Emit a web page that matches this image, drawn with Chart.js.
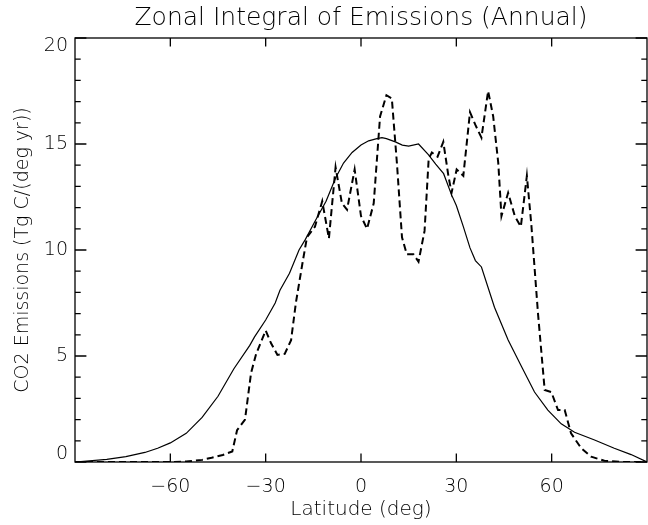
<!DOCTYPE html>
<html><head><meta charset="utf-8">
<script src="https://cdn.jsdelivr.net/npm/chart.js@4/dist/chart.umd.min.js"></script>
<style>html,body{margin:0;padding:0;background:#fff}#wrap{width:648px;height:525px}</style>
</head><body><div id="wrap"><canvas id="c" width="648" height="525"></canvas></div>
<script>
const titleText = 'Zonal Integral of Emissions (Annual)';
const xTitle = 'Latitude (deg)';
const yTitle = 'CO2 Emissions (Tg C/(deg yr))';
const xTickValues = [-60, -30, 0, 30, 60];
const yTickValues = [0, 5, 10, 15, 20];

const solidLat = [-90,-80,-74,-68,-64,-60,-55,-50,-45,-40,-35,-33.5,-30,-27,-25.5,-22.5,-19.5,-17.5,-14.3,-11,-8,-5.5,-2.8,0,2.4,5,6.6,8,10.8,13,15,18.1,21.2,23.5,26,28.5,30,32.2,34.3,36,37.9,42,46.3,50.5,54.6,58.8,63,67.2,73.5,79.7,85,90];
const solidVal = [0,0.12,0.25,0.45,0.65,0.9,1.35,2.1,3.1,4.4,5.5,5.9,6.7,7.5,8.1,8.9,10.0,10.5,11.4,12.3,13.4,14.1,14.6,14.95,15.15,15.25,15.3,15.25,15.1,14.95,14.9,15.0,14.5,14.05,13.6,12.6,12.1,11.1,10.1,9.5,9.2,7.3,5.75,4.5,3.3,2.45,1.8,1.4,1.04,0.65,0.35,0];

const dashLat = [-90,-70,-60,-55,-50,-47,-43.5,-40.5,-39,-36.5,-34.6,-33,-30,-28.3,-26.3,-24,-22,-20.5,-18.4,-17,-14.5,-12.2,-10.1,-8,-6,-4.4,-2,0,1.9,4,6,8,9.7,11.3,12.9,14.4,16.5,18.1,20,21.3,22.3,24.1,25.9,27.5,28.5,30.1,32.2,34.3,36,37.9,40,41.6,43.2,44.2,46.3,48.4,50.3,52.2,53.6,55.7,57.8,59.9,62,64.1,66.1,69.3,72.4,76.6,82,90];
const dashVal = [0,0,0,0.02,0.1,0.2,0.33,0.5,1.5,2.0,4.2,5.1,6.2,5.6,5.05,5.1,5.75,7.5,9.4,10.6,11.1,12.3,10.55,13.9,12.2,11.9,13.8,11.6,11.0,12.2,16.3,17.3,17.15,14.1,10.6,9.8,9.8,9.45,10.9,14.3,14.6,14.4,15.1,13.5,12.7,13.8,13.5,16.5,15.9,15.3,17.5,16.3,14.1,11.6,12.7,11.6,11.1,13.5,11.2,7.0,3.4,3.3,2.45,2.45,1.35,0.65,0.25,0.06,0,0];

const FONT = '"DejaVu Sans", sans-serif';
const W = 200;
const fmt = v => (v < 0 ? '\u2212' + Math.abs(v) : String(v));

const framePlugin = {
  id: 'idlFrame',
  afterDraw(chart) {
    const {ctx, chartArea: a, scales: {x, y}} = chart;
    ctx.save();
    ctx.strokeStyle = '#000';
    ctx.lineWidth = 1.3;
    ctx.strokeRect(a.left, a.top, a.right - a.left, a.bottom - a.top);
    const yMajor = 11.4, yMinor = 5.7, xMajor = 8.5;
    ctx.beginPath();
    for (let v = y.min; v <= y.max; v += 1) {
      const py = y.getPixelForValue(v);
      const len = (v % 5 === 0) ? yMajor : yMinor;
      ctx.moveTo(a.left, py); ctx.lineTo(a.left + len, py);
      ctx.moveTo(a.right, py); ctx.lineTo(a.right - len, py);
    }
    xTickValues.forEach(v => {
      const px = x.getPixelForValue(v);
      ctx.moveTo(px, a.bottom); ctx.lineTo(px, a.bottom - xMajor);
      ctx.moveTo(px, a.top); ctx.lineTo(px, a.top + xMajor);
    });
    ctx.stroke();
    ctx.fillStyle = '#000';
    // title centred over the plot area
    ctx.font = W + ' 25px ' + FONT;
    ctx.textAlign = 'center';
    ctx.textBaseline = 'middle';
    ctx.fillText(titleText, (a.left + a.right) / 2, 18);
    // end labels of y axis, shifted inward like the original
    ctx.font = W + ' 19px ' + FONT;
    ctx.textAlign = 'right';
    const first = yTickValues[0], last = yTickValues[yTickValues.length - 1];
    ctx.textBaseline = 'bottom';
    ctx.fillText(fmt(first), a.left - 7, y.getPixelForValue(first) + 2);
    ctx.textBaseline = 'top';
    ctx.fillText(fmt(last), a.left - 7, y.getPixelForValue(last) - 1);
    ctx.restore();
  }
};

new Chart(document.getElementById('c'), {
  type: 'line',
  data: {
    datasets: [
      {
        label: 'solid',
        data: solidLat.map((v, i) => ({x: v, y: solidVal[i]})),
        borderColor: '#000', borderWidth: 1.2, pointRadius: 0, tension: 0, fill: false
      },
      {
        label: 'dashed',
        data: dashLat.map((v, i) => ({x: v, y: dashVal[i]})),
        borderColor: '#000', borderWidth: 2, borderDash: [7, 4], pointRadius: 0, tension: 0, fill: false
      }
    ]
  },
  options: {
    responsive: false,
    animation: false,
    devicePixelRatio: 1,
    layout: {padding: {left: 0, right: 1, top: 38, bottom: 0}},
    plugins: {
      legend: {display: false},
      tooltip: {enabled: false},
      title: {display: false}
    },
    scales: {
      x: {
        type: 'linear', min: -90, max: 90,
        grid: {display: false, drawTicks: false},
        border: {display: false},
        afterBuildTicks: s => { s.ticks = xTickValues.map(v => ({value: v})); },
        ticks: {
          color: '#000', font: {family: FONT, size: 19, weight: W},
          padding: 14, maxRotation: 0, autoSkip: false,
          callback: v => fmt(v)
        },
        title: {display: true, text: xTitle, color: '#000', font: {family: FONT, size: 20, weight: W, lineHeight: 1.2}, padding: {top: 0, bottom: 3}},
        afterFit: s => { s.height = 63; }
      },
      y: {
        type: 'linear', min: 0, max: 20,
        grid: {display: false, drawTicks: false},
        border: {display: false},
        afterBuildTicks: s => { s.ticks = yTickValues.map(v => ({value: v})); },
        ticks: {
          color: '#000', font: {family: FONT, size: 19, weight: W}, padding: 7, autoSkip: false,
          callback: v => (v === yTickValues[0] || v === yTickValues[yTickValues.length - 1]) ? '' : fmt(v)
        },
        title: {display: true, text: yTitle, color: '#000', font: {family: FONT, size: 19, weight: W, lineHeight: 1.2}, padding: {top: 12, bottom: 0}},
        afterFit: s => { s.width = 75; }
      }
    }
  },
  plugins: [framePlugin]
});
</script>
</body></html>
